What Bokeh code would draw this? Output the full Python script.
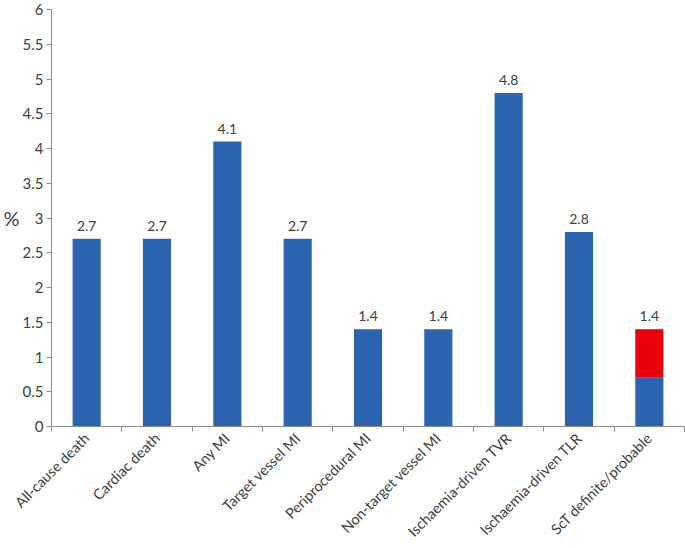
import math
from bokeh.plotting import figure
from bokeh.models import ColumnDataSource, FixedTicker, Range1d, LabelSet
from bokeh.core.properties import value
from bokeh.embed import file_html
from bokeh.resources import INLINE

categories = ["All-cause death", "Cardiac death", "Any MI", "Target vessel MI",
              "Periprocedural MI", "Non-target vessel MI", "Ischaemia-driven TVR",
              "Ischaemia-driven TLR", "ScT definite/probable"]
blue_values = [2.7, 2.7, 4.1, 2.7, 1.4, 1.4, 4.8, 2.8, 0.7]
red_values = [0, 0, 0, 0, 0, 0, 0, 0, 0.7]
totals = [2.7, 2.7, 4.1, 2.7, 1.4, 1.4, 4.8, 2.8, 1.4]
y_ticks = [0, 0.5, 1, 1.5, 2, 2.5, 3, 3.5, 4, 4.5, 5, 5.5, 6]

FONT = "Lato"
BLUE = "#2B63AE"
RED = "#E8000B"
TXT = "#404040"
AX = "#8C8C8C"

xs = list(range(1, len(categories) + 1))
src = ColumnDataSource(dict(
    x=xs, blue=blue_values, red_top=[b + r for b, r in zip(blue_values, red_values)],
    total=totals, lab=[str(t) for t in totals]))

p = figure(width=685, height=548, output_backend="svg", toolbar_location=None,
           x_range=Range1d(0.5, len(categories) + 0.5), y_range=Range1d(0, 6),
           min_border_left=47, min_border_right=1, min_border_top=9, min_border_bottom=120)
p.outline_line_color = None
p.xgrid.grid_line_color = None
p.ygrid.grid_line_color = None

p.vbar(x="x", width=0.4, bottom=0, top="blue", source=src, fill_color=BLUE, line_color=None)
p.vbar(x="x", width=0.4, bottom="blue", top="red_top", source=src, fill_color=RED, line_color=None)

labels = LabelSet(x="x", y="total", text="lab", source=src, y_offset=8,
                  text_align="center", text_baseline="bottom",
                  text_font=value(FONT), text_font_size=value("14px"), text_color=value(TXT))
p.add_layout(labels)

p.yaxis.ticker = FixedTicker(ticks=y_ticks)
p.yaxis.major_label_overrides = {t: (str(int(t)) if float(t).is_integer() else str(t)) for t in y_ticks}
p.yaxis.minor_tick_line_color = None
p.yaxis.major_tick_in = 0
p.yaxis.major_tick_out = 5
p.yaxis.axis_line_color = AX
p.yaxis.major_tick_line_color = AX
p.yaxis.major_label_text_font = FONT
p.yaxis.major_label_text_font_size = "15px"
p.yaxis.major_label_text_color = TXT
p.yaxis.major_label_standoff = 3
p.yaxis.axis_label = "%"
p.yaxis.axis_label_orientation = "horizontal"
p.yaxis.axis_label_standoff = 0
p.yaxis.axis_label_text_font = FONT
p.yaxis.axis_label_text_font_size = "20px"
p.yaxis.axis_label_text_font_style = "normal"
p.yaxis.axis_label_text_color = TXT

boundaries = [i + 0.5 for i in range(0, len(categories) + 1)]
p.xaxis.ticker = FixedTicker(ticks=xs, minor_ticks=boundaries)
p.xaxis.major_label_overrides = {x: c for x, c in zip(xs, categories)}
p.xaxis.major_tick_line_color = None
p.xaxis.minor_tick_in = 0
p.xaxis.minor_tick_out = 5
p.xaxis.minor_tick_line_color = AX
p.xaxis.axis_line_color = AX
p.xaxis.major_label_orientation = math.pi / 4
p.xaxis.major_label_text_font = FONT
p.xaxis.major_label_text_font_size = "14.5px"
p.xaxis.major_label_text_color = TXT
p.xaxis.major_label_standoff = 3

open("out.html", "w").write(file_html(p, INLINE))
